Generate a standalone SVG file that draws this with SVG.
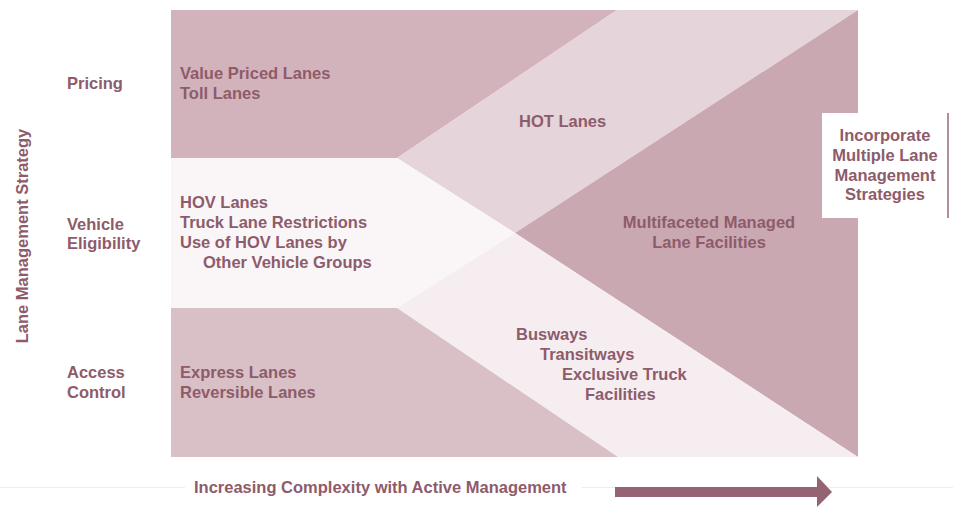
<svg xmlns="http://www.w3.org/2000/svg" width="953" height="510" viewBox="0 0 953 510">
<style>
text{font-family:"Liberation Sans",Arial,sans-serif;font-weight:bold;font-size:16.5px;fill:#8e5b6b}
.c{text-anchor:middle}
</style>
<rect width="953" height="510" fill="#ffffff"/>
<g id="regions">
<polygon id="pricing-region" points="171,10 617,10 397,158 171,158" fill="#d2b3bb"/>
<polygon id="hot-region" points="617,10 858,10 515,233 397,158" fill="#e5d4d9"/>
<polygon id="multifaceted-region" points="858,10 858,457 515,233" fill="#c9a8b1"/>
<polygon id="eligibility-region" points="171,158 397,158 515,233 397,308 171,308" fill="#faf6f8"/>
<polygon id="busway-region" points="397,308 515,233 858,457 618,457" fill="#f5edf0"/>
<polygon id="access-region" points="171,308 397,308 618,457 171,457" fill="#d9c0c6"/>
</g>
<g id="axis-lines">
<line x1="0" y1="487.5" x2="185" y2="487.5" stroke="#f0eced" stroke-width="1"/>
<line x1="582" y1="487.5" x2="953" y2="487.5" stroke="#f0eced" stroke-width="1"/>
</g>
<g id="connectors">
<polygon id="complexity-arrow" points="615,487 817,487 817,476 832,492 817,507 817,497 615,497" fill="#956371"/>
</g>
<g id="row-labels">
<text x="67" y="89">Pricing</text>
<text x="67" y="230">Vehicle</text>
<text x="67" y="249">Eligibility</text>
<text x="67" y="378">Access</text>
<text x="67" y="398">Control</text>
<text transform="translate(28,236) rotate(-90)" class="c">Lane Management Strategy</text>
</g>
<g id="pricing">
<text x="180" y="79">Value Priced Lanes</text>
<text x="180" y="99">Toll Lanes</text>
</g>
<g id="eligibility">
<text x="180" y="208">HOV Lanes</text>
<text x="180" y="228">Truck Lane Restrictions</text>
<text x="180" y="248">Use of HOV Lanes by</text>
<text x="203" y="268">Other Vehicle Groups</text>
</g>
<g id="access">
<text x="180" y="378">Express Lanes</text>
<text x="180" y="398">Reversible Lanes</text>
</g>
<g id="hot">
<text x="519" y="127">HOT Lanes</text>
</g>
<g id="multifaceted">
<text x="709" y="228" class="c">Multifaceted Managed</text>
<text x="709" y="248" class="c">Lane Facilities</text>
</g>
<g id="busways">
<text x="516" y="340">Busways</text>
<text x="540" y="360">Transitways</text>
<text x="562" y="380">Exclusive Truck</text>
<text x="585" y="400">Facilities</text>
</g>
<g id="incorporate">
<rect x="822" y="113" width="126" height="105" fill="#ffffff"/>
<line x1="948" y1="113" x2="948" y2="218" stroke="#9a6a78" stroke-width="1.5"/>
<text x="885" y="141" class="c">Incorporate</text>
<text x="885" y="161" class="c">Multiple Lane</text>
<text x="885" y="181" class="c">Management</text>
<text x="885" y="200" class="c">Strategies</text>
</g>
<g id="x-axis">
<text x="194" y="493">Increasing Complexity with Active Management</text>
</g>
</svg>
